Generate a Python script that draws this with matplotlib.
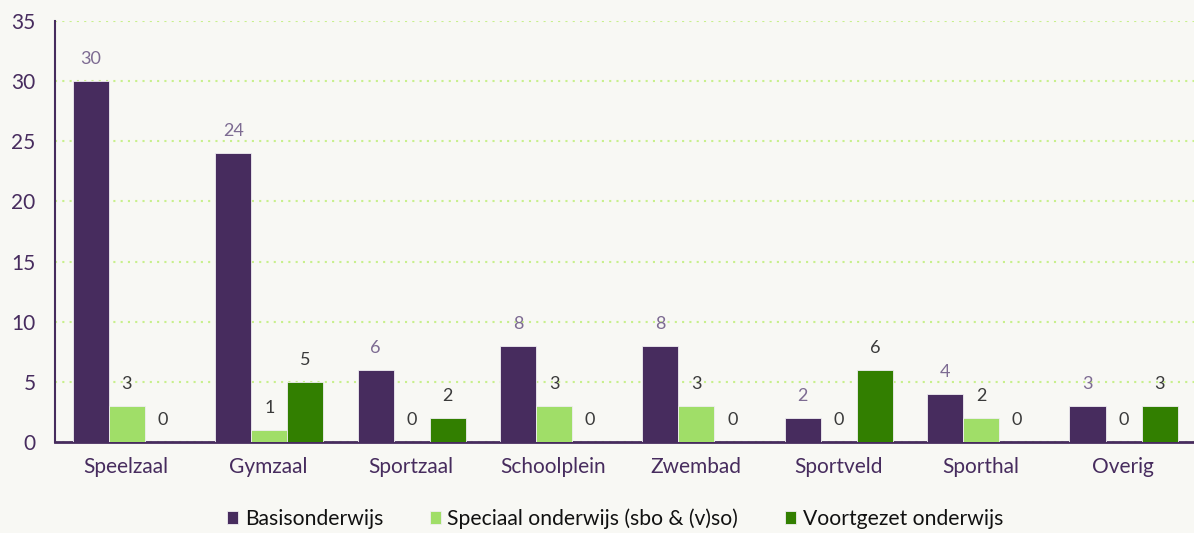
import matplotlib
matplotlib.use("Agg")
import matplotlib.pyplot as plt
import numpy as np

categories = ["Speelzaal", "Gymzaal", "Sportzaal", "Schoolplein", "Zwembad", "Sportveld", "Sporthal", "Overig"]
basis = [30, 24, 6, 8, 8, 2, 4, 3]
speciaal = [3, 1, 0, 3, 3, 0, 2, 0]
voortgezet = [0, 5, 2, 0, 0, 6, 0, 3]
series_names = ["Basisonderwijs", "Speciaal onderwijs (sbo & (v)so)", "Voortgezet onderwijs"]
yticks = [0, 5, 10, 15, 20, 25, 30, 35]

colors = ["#472c5e", "#a0de68", "#327f00"]
label_colors = ["#7d6b92", "#3a3a3a", "#3a3a3a"]
bg = "#f8f8f4"

plt.rcParams['font.family'] = ['Lato', 'DejaVu Sans']

fig = plt.figure(figsize=(11.94, 5.33), dpi=100, facecolor=bg)
ax = fig.add_axes([55/1194, 1-442/533, 1-55/1194, (442-21)/533])
ax.set_facecolor(bg)

x = np.arange(len(categories))
w = 0.253
for i, (vals, c, lc, name) in enumerate(zip([basis, speciaal, voortgezet], colors, label_colors, series_names)):
    pos = x + (i - 1) * w + 0.005
    ax.bar(pos, vals, width=w, color=c, label=name, zorder=3,
           edgecolor="#f0eef2", linewidth=0.6)
    for p, v in zip(pos, vals):
        ax.annotate(str(v), (p, v), xytext=(0, 10), textcoords="offset points",
                    ha="center", va="bottom", fontsize=13, color=lc, zorder=4)

ax.set_xlim(-0.5, len(categories) - 0.5)
ax.set_ylim(0, 35)
ax.set_yticks(yticks)
ax.set_xticks(x)
ax.set_xticklabels(categories)
ax.tick_params(axis="both", length=0, labelsize=15, labelcolor="#472c5e")
ax.tick_params(axis="x", pad=11)
ax.tick_params(axis="y", pad=14)

ax.grid(axis="y", color="#c8f08c", linestyle=(0, (1, 2.5)), linewidth=1.5, zorder=0)
for s in ["top", "right"]:
    ax.spines[s].set_visible(False)
ax.spines["left"].set_color("#472c5e")
ax.spines["bottom"].set_color("#472c5e")
ax.spines["left"].set_linewidth(1.5)
ax.spines["bottom"].set_linewidth(2)

leg = fig.legend(loc="lower center", bbox_to_anchor=(0.515, -0.028), ncol=3, frameon=False,
                 fontsize=15.2, handlelength=0.55, handleheight=0.55, handletextpad=0.3,
                 columnspacing=2.2)
for t in leg.get_texts():
    t.set_color("#111111")

fig.savefig("out.png", dpi=100, facecolor=bg)
